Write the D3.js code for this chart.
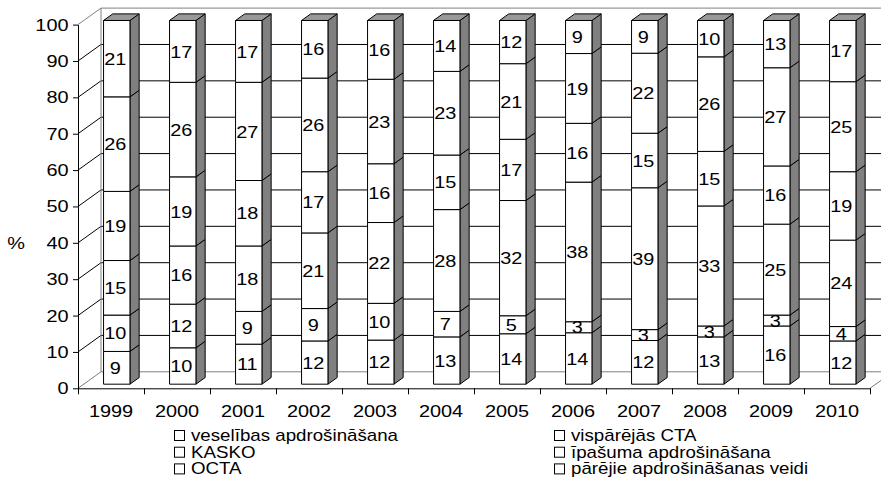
<!DOCTYPE html>
<html>
<head>
<meta charset="utf-8">
<script src="https://cdn.jsdelivr.net/npm/d3@7/dist/d3.min.js"></script>
<style>
  html, body { margin: 0; padding: 0; background: #fff; }
  svg { display: block; font-family: "Liberation Sans", Arial, sans-serif; }
</style>
</head>
<body>
<svg id="chart" width="881" height="479"></svg>
<script>
// Insurance premium structure by class, % of total (stacked bottom to top)
const categories = ["1999","2000","2001","2002","2003","2004","2005","2006","2007","2008","2009","2010"];
const seriesNames = [
  "veselības apdrošināšana",
  "vispārējās CTA",
  "KASKO",
  "īpašuma apdrošināšana",
  "OCTA",
  "pārējie apdrošināšanas veidi"
];
const veselibas = [9, 10, 11, 12, 12, 13, 14, 14, 12, 13, 16, 12];
const visparejasCTA = [10, 12, 9, 9, 10, 7, 5, 3, 3, 3, 3, 4];
const kasko = [15, 16, 18, 21, 22, 28, 32, 38, 39, 33, 25, 24];
const ipasuma = [19, 19, 18, 17, 16, 15, 17, 16, 15, 15, 16, 19];
const octa = [26, 26, 27, 26, 23, 23, 21, 19, 22, 26, 27, 25];
const parejie = [21, 17, 17, 16, 16, 14, 12, 9, 9, 10, 13, 17];
const yTicks = [0, 10, 20, 30, 40, 50, 60, 70, 80, 90, 100];
const yTitle = "%";

const seriesValues = [veselibas, visparejasCTA, kasko, ipasuma, octa, parejie];

// table for d3.stack: one row per year
const rows = categories.map((c, i) => {
  const r = { year: c };
  seriesNames.forEach((s, k) => { r[s] = seriesValues[k][i]; });
  return r;
});
const stacked = d3.stack().keys(seriesNames).offset(d3.stackOffsetExpand)(rows);

// ---- layout ----
const svg = d3.select("#chart");
const X0 = 78, X1 = 870, Y0 = 388.3, Y1 = 24.6;
const DX = 23, DY = -16.5;            // depth of the 3-D box
const F0 = 0.25, F1 = 0.65;           // bar front / back position inside the depth
const TX = 1.17;                      // horizontal text stretch
const FS = 17;
const FONT = "Liberation Sans, Arial, sans-serif";

const x = d3.scaleBand().domain(categories).range([X0, X1]).paddingInner(0).paddingOuter(0);
const xEdge = d3.scaleLinear().domain([0, categories.length]).range([X0, X1]);
const y = d3.scaleLinear().domain([0, 100]).range([Y0, Y1]);
const pct = d3.scaleLinear().domain([0, 1]).range([0, 100]);

const P = (px, py, f) => [px + f * DX, py + f * DY];
const poly = pts => "M" + pts.map(p => p.join(",")).join("L") + "Z";

const grey = "#808080";

// ---- walls and gridlines ----
const walls = svg.append("g");
yTicks.filter(t => t > 0 && t < 100).forEach(t => {
  // back wall gridline
  walls.append("line")
    .attr("x1", X0 + DX).attr("x2", X1 + DX)
    .attr("y1", y(t) + DY).attr("y2", y(t) + DY)
    .attr("stroke", "#000").attr("stroke-width", 1);
  // side wall gridline
  walls.append("line")
    .attr("x1", X0).attr("x2", X0 + DX)
    .attr("y1", y(t)).attr("y2", y(t) + DY)
    .attr("stroke", "#000").attr("stroke-width", 1);
});
// wall outlines
[
  [[X0, y(100)], [X0 + DX, y(100) + DY]],
  [[X0 + DX, y(100) + DY], [X1 + DX, y(100) + DY]],
  [[X0 + DX, y(100) + DY], [X0 + DX, y(0) + DY]],
  [[X0 + DX, y(0) + DY], [X1 + DX, y(0) + DY]],
  [[X0, y(0)], [X0 + DX, y(0) + DY]],
  [[X1, y(0)], [X1 + DX, y(0) + DY]]
].forEach(([a, b]) => {
  walls.append("line")
    .attr("x1", a[0]).attr("y1", a[1]).attr("x2", b[0]).attr("y2", b[1])
    .attr("stroke", grey).attr("stroke-width", 1);
});

// ---- bars ----
const bw = x.bandwidth() / 2.5;
const barsG = svg.append("g");
categories.forEach((c, i) => {
  const xl = x(c) + (x.bandwidth() - bw) / 2;
  const xr = xl + bw;
  const g = barsG.append("g");
  stacked.forEach(layer => {
    const d = layer[i];
    const yb = y(pct(d[0])), yt = y(pct(d[1]));
    // side face
    g.append("path")
      .attr("d", poly([P(xr, yb, F0), P(xr, yb, F1), P(xr, yt, F1), P(xr, yt, F0)]))
      .attr("fill", grey).attr("stroke", "#000").attr("stroke-width", 1)
      .attr("stroke-linejoin", "round");
    // front face
    g.append("path")
      .attr("d", poly([P(xl, yb, F0), P(xr, yb, F0), P(xr, yt, F0), P(xl, yt, F0)]))
      .attr("fill", "#fff").attr("stroke", "#000").attr("stroke-width", 1);
  });
  // top face
  const yt = y(100);
  g.append("path")
    .attr("d", poly([P(xl, yt, F0), P(xr, yt, F0), P(xr, yt, F1), P(xl, yt, F1)]))
    .attr("fill", "#999999").attr("stroke", "#000").attr("stroke-width", 1);
  // value labels
  stacked.forEach((layer, k) => {
    const d = layer[i];
    const yc = (y(pct(d[0])) + y(pct(d[1]))) / 2;
    const p = P((xl + xr) / 2 - 1.5, yc, F0);
    g.append("text")
      .attr("transform", `translate(${p[0]},${p[1]}) scale(${TX},1)`)
      .attr("text-anchor", "middle")
      .attr("dy", "0.36em")
      .attr("font-family", FONT)
      .attr("font-size", FS)
      .attr("fill", "#000")
      .text(seriesValues[k][i]);
  });
});

// ---- axes ----
const yAxis = svg.append("g")
  .attr("transform", `translate(${X0},0)`)
  .call(d3.axisLeft(y).tickValues(yTicks).tickSize(5).tickPadding(4.5).tickSizeOuter(0));
yAxis.select(".domain").attr("stroke", "#000");
yAxis.selectAll(".tick line").attr("stroke", "#000");
yAxis.selectAll(".tick text")
  .attr("font-family", FONT)
  .attr("font-size", FS).attr("fill", "#000")
  .attr("x", -9.5 / TX)
  .attr("transform", `scale(${TX},1)`);

// tick marks at the category boundaries
const xTicks = svg.append("g")
  .attr("transform", `translate(0,${Y0})`)
  .call(d3.axisBottom(xEdge).tickValues(d3.range(categories.length + 1))
    .tickSize(6).tickSizeOuter(0).tickFormat(""));
xTicks.select(".domain").attr("stroke", "#000");
xTicks.selectAll(".tick line").attr("stroke", "#000");

// year labels centred in each category
const xAxis = svg.append("g")
  .attr("transform", `translate(0,${Y0})`)
  .call(d3.axisBottom(x).tickSize(0).tickPadding(17));
xAxis.select(".domain").remove();
xAxis.selectAll(".tick text")
  .attr("font-family", FONT)
  .attr("font-size", FS).attr("fill", "#000")
  .attr("transform", `scale(${TX},1)`);

// axis title
svg.append("text")
  .attr("transform", `translate(16,249) scale(${TX},1)`)
  .attr("text-anchor", "middle")
  .attr("font-family", FONT)
  .attr("font-size", FS)
  .text(yTitle);

// ---- legend ----
const legend = svg.append("g");
const legendCols = [174, 554];
const legendRows = [441, 457.7, 474.4];
seriesNames.forEach((s, k) => {
  const cx = legendCols[k % 2];
  const by = legendRows[Math.floor(k / 2)];
  legend.append("rect")
    .attr("x", cx + 0.5).attr("y", by - 10.5)
    .attr("width", 10).attr("height", 10)
    .attr("fill", "#fff").attr("stroke", "#000").attr("stroke-width", 1);
  legend.append("text")
    .attr("transform", `translate(${cx + 17},${by}) scale(${TX},1)`)
    .attr("font-family", FONT)
    .attr("font-size", 16)
    .attr("fill", "#000")
    .text(s);
});
</script>
</body>
</html>
